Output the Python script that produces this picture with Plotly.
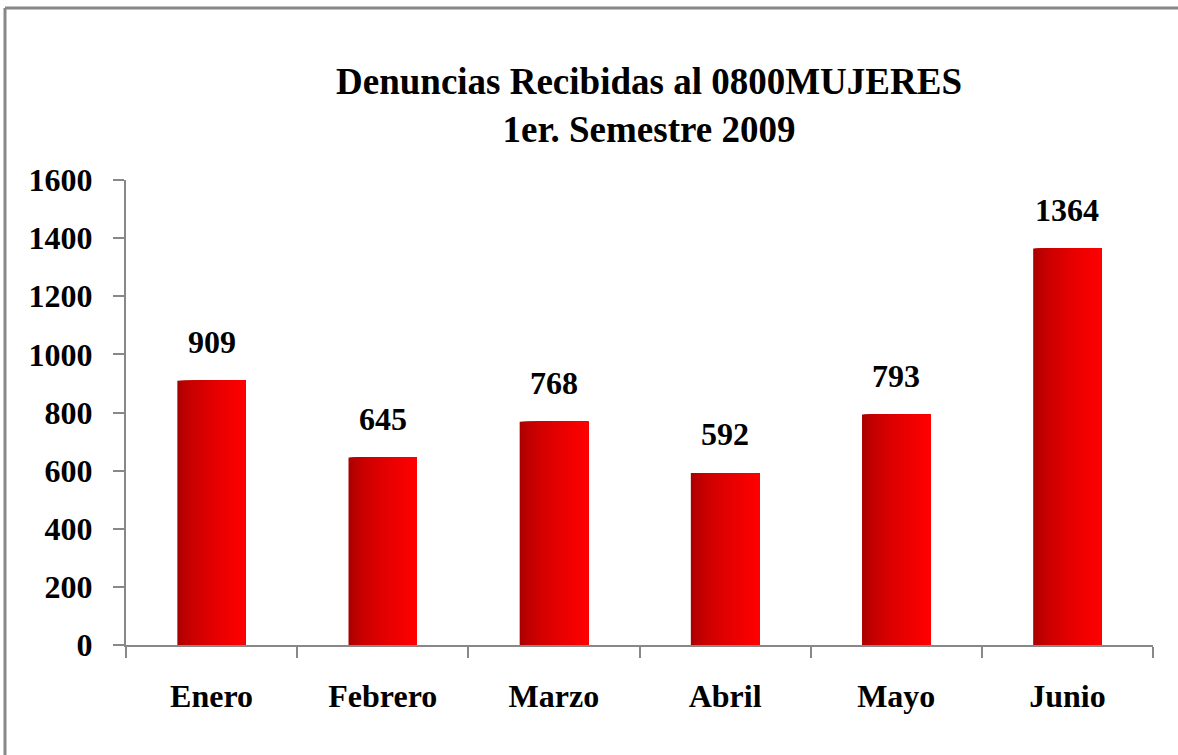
import plotly.graph_objects as go

months = ["Enero", "Febrero", "Marzo", "Abril", "Mayo", "Junio"]
denuncias = [909, 645, 768, 592, 793, 1364]
y_ticks = [0, 200, 400, 600, 800, 1000, 1200, 1400, 1600]
title_lines = ["Denuncias Recibidas al 0800MUJERES", "1er. Semestre 2009"]

FONT = "Liberation Serif"
BAR_W = 0.40
N_SLICES = 40
dark = (160, 0, 0)
light = (255, 0, 0)

fig = go.Figure()
sw = BAR_W / N_SLICES
for i in range(N_SLICES):
    t = (i + 0.5) / N_SLICES
    t2 = t ** 0.55
    c = tuple(int(round(dark[k] + (light[k] - dark[k]) * t2)) for k in range(3))
    fig.add_trace(go.Bar(
        x=months, y=denuncias,
        width=BAR_W - i * sw, offset=-BAR_W / 2 + i * sw,
        marker=dict(color=f"rgb{c}", line=dict(width=0)),
        showlegend=False, hoverinfo="skip" if i else "x+y",
    ))

for m, v in zip(months, denuncias):
    fig.add_annotation(x=m, y=v, text=f"<b>{v}</b>", showarrow=False,
                       yanchor="bottom", yshift=19,
                       font=dict(family=FONT, size=32, color="black"))

# frame: only the left and top edges are visible in the reference
fx0, fy1 = (5 - 126) / 1027, (645 - 8) / 465
fx1, fy0 = (1300 - 126) / 1027, (645 - 900) / 465
frame = dict(color="#888888", width=3)

fig.update_layout(
    width=1178, height=755,
    paper_bgcolor="white", plot_bgcolor="white",
    barmode="overlay",
    margin=dict(l=126, r=25, t=180, b=110),
    title=dict(text="<b>" + "<br>".join(title_lines) + "</b>",
               x=649 / 1178, xanchor="center", y=1 - 94 / 755, yanchor="middle",
               font=dict(family=FONT, size=37, color="black")),
    shapes=[
        dict(type="line", xref="paper", yref="paper", x0=fx0, x1=fx0, y0=fy0, y1=fy1, line=frame),
        dict(type="line", xref="paper", yref="paper", x0=fx0, x1=fx1, y0=fy1, y1=fy1, line=frame),
    ],
)
fig.update_xaxes(
    type="category", showline=True, linecolor="#888888", linewidth=2,
    ticks="outside", tickson="boundaries", ticklen=11, tickcolor="#888888", tickwidth=2,
    tickfont=dict(family=FONT, size=32, color="black"),
    ticklabelstandoff=22, showgrid=False,
    tickvals=months, ticktext=[f"<b>{m}</b>" for m in months],
)
fig.update_yaxes(
    range=[0, 1600], showline=True, linecolor="#888888", linewidth=2,
    ticks="outside", ticklen=11, tickcolor="#888888", tickwidth=2,
    tickvals=y_ticks, ticktext=[f"<b>{v}</b>" for v in y_ticks],
    tickfont=dict(family=FONT, size=32, color="black"),
    ticklabelstandoff=14, showgrid=False, zeroline=False,
)

fig.write_html(
    "out.html", config={"displayModeBar": False},
    post_script=(
        "document.documentElement.style.overflow='hidden';"
        "document.body.style.margin='0';document.body.style.overflow='hidden';"
    ),
)
